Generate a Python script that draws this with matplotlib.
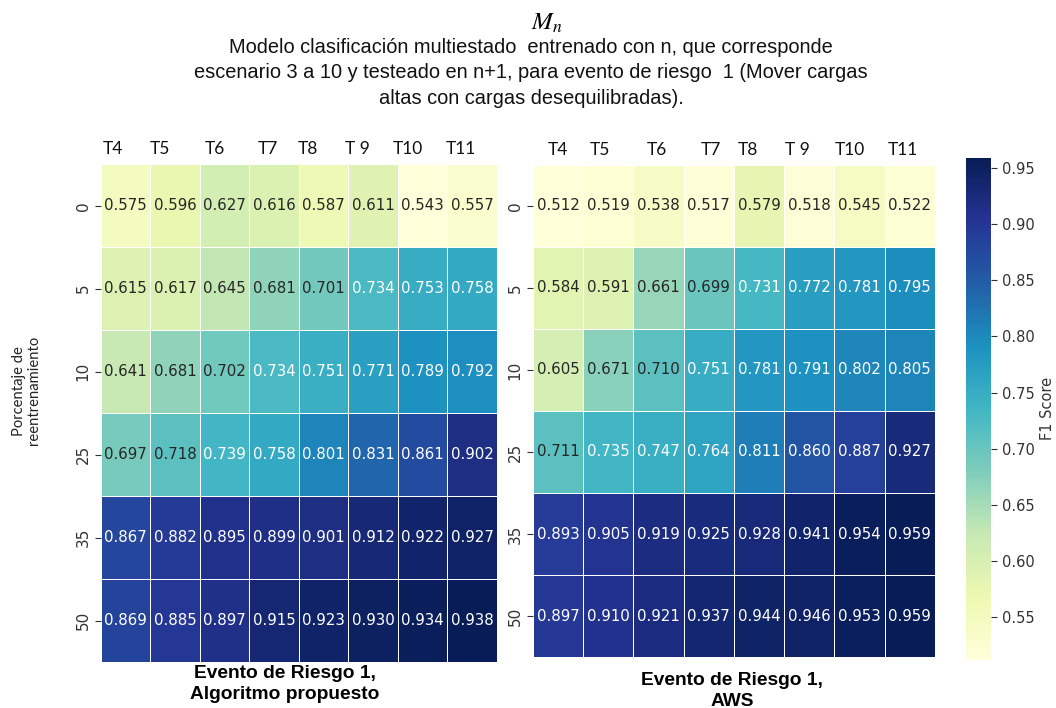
import numpy as np
import matplotlib; matplotlib.use('Agg')
import matplotlib.pyplot as plt
import seaborn as sns

# ── data ──────────────────────────────────────────────────────
cols = ['T4', 'T5', 'T6', 'T7', 'T8', 'T 9', 'T10', 'T11']
rows = ['0', '5', '10', '25', '35', '50']

prop = np.array([
    [0.575, 0.596, 0.627, 0.616, 0.587, 0.611, 0.543, 0.557],
    [0.615, 0.617, 0.645, 0.681, 0.701, 0.734, 0.753, 0.758],
    [0.641, 0.681, 0.702, 0.734, 0.751, 0.771, 0.789, 0.792],
    [0.697, 0.718, 0.739, 0.758, 0.801, 0.831, 0.861, 0.902],
    [0.867, 0.882, 0.895, 0.899, 0.901, 0.912, 0.922, 0.927],
    [0.869, 0.885, 0.897, 0.915, 0.923, 0.930, 0.934, 0.938],
])
aws = np.array([
    [0.512, 0.519, 0.538, 0.517, 0.579, 0.518, 0.545, 0.522],
    [0.584, 0.591, 0.661, 0.699, 0.731, 0.772, 0.781, 0.795],
    [0.605, 0.671, 0.710, 0.751, 0.781, 0.791, 0.802, 0.805],
    [0.711, 0.735, 0.747, 0.764, 0.811, 0.860, 0.887, 0.927],
    [0.893, 0.905, 0.919, 0.925, 0.928, 0.941, 0.954, 0.959],
    [0.897, 0.910, 0.921, 0.937, 0.944, 0.946, 0.953, 0.959],
])

# column label spots as in the original (slightly uneven, in cell units)
lab_pos_l = [0.24, 1.19, 2.30, 3.37, 4.18, 5.19, 6.20, 7.27]
lab_pos_r = [0.50, 1.33, 2.47, 3.54, 4.27, 5.26, 6.31, 7.36]

plt.rcParams['font.family'] = 'DejaVu Sans'
plt.rcParams['mathtext.fontset'] = 'stix'

fig = plt.figure(figsize=(10.56, 7.08), dpi=100)
axL = fig.add_axes([0.0956, 0.065, 0.375, 0.703])
axR = fig.add_axes([0.5047, 0.072, 0.3807, 0.695])
cax = fig.add_axes([0.915, 0.068, 0.0237, 0.709])

kw = dict(cmap='YlGnBu', annot=True, fmt='.3f', linewidths=0.5,
          linecolor='white', annot_kws={'fontsize': 10.8})
# each panel was scaled on its own data; the bar belongs to the AWS panel
sns.heatmap(prop, ax=axL, cbar=False, **kw)
sns.heatmap(aws, ax=axR, cbar_ax=cax, **kw)

for ax, pos in [(axL, lab_pos_l), (axR, lab_pos_r)]:
    ax.set_yticks(np.arange(len(rows)) + 0.5)
    ax.set_yticklabels(rows, rotation=90, va='center', fontsize=11, color='#333333')
    ax.tick_params(axis='y', length=4, color='#333333')
    ax.set_xticks(pos)
    ax.set_xticklabels(cols, fontsize=12.5, family='Lato', color='#111111')
    ax.xaxis.tick_top()
    ax.tick_params(axis='x', length=0, pad=5)

cax.tick_params(labelsize=10.5, length=4, colors='#333333')
cax.set_ylabel('F1 Score', fontsize=10.5, color='#333333')
cax.set_yticks([0.55, 0.60, 0.65, 0.70, 0.75, 0.80, 0.85, 0.90, 0.95])
cax.collections[0].set_edgecolor('face')

fig.text(0.025, 0.448, 'Porcentaje de\nreentrenamiento', rotation=90,
         ha='center', va='center', fontsize=10.6, family='Lato', color='#222222',
         linespacing=1.15)

# titles
fig.text(0.518, 0.968, r'$M_n$', ha='center', va='center', fontsize=18)
fig.text(0.503, 0.897,
         'Modelo clasificación multiestado  entrenado con n, que corresponde\n'
         'escenario 3 a 10 y testeado en n+1, para evento de riesgo  1 (Mover cargas\n'
         'altas con cargas desequilibradas).',
         ha='center', va='center', fontsize=14.4, family='Liberation Sans',
         linespacing=1.45, color='#111111')

fig.text(0.270, 0.034, 'Evento de Riesgo 1,\nAlgoritmo propuesto', ha='center',
         va='center', fontsize=13.8, fontweight='bold',
         family='Liberation Sans', linespacing=1.3)
fig.text(0.693, 0.024, 'Evento de Riesgo 1,\nAWS', ha='center',
         va='center', fontsize=13.8, fontweight='bold',
         family='Liberation Sans', linespacing=1.3)

plt.savefig('out.png', dpi=100)
plt.close()
